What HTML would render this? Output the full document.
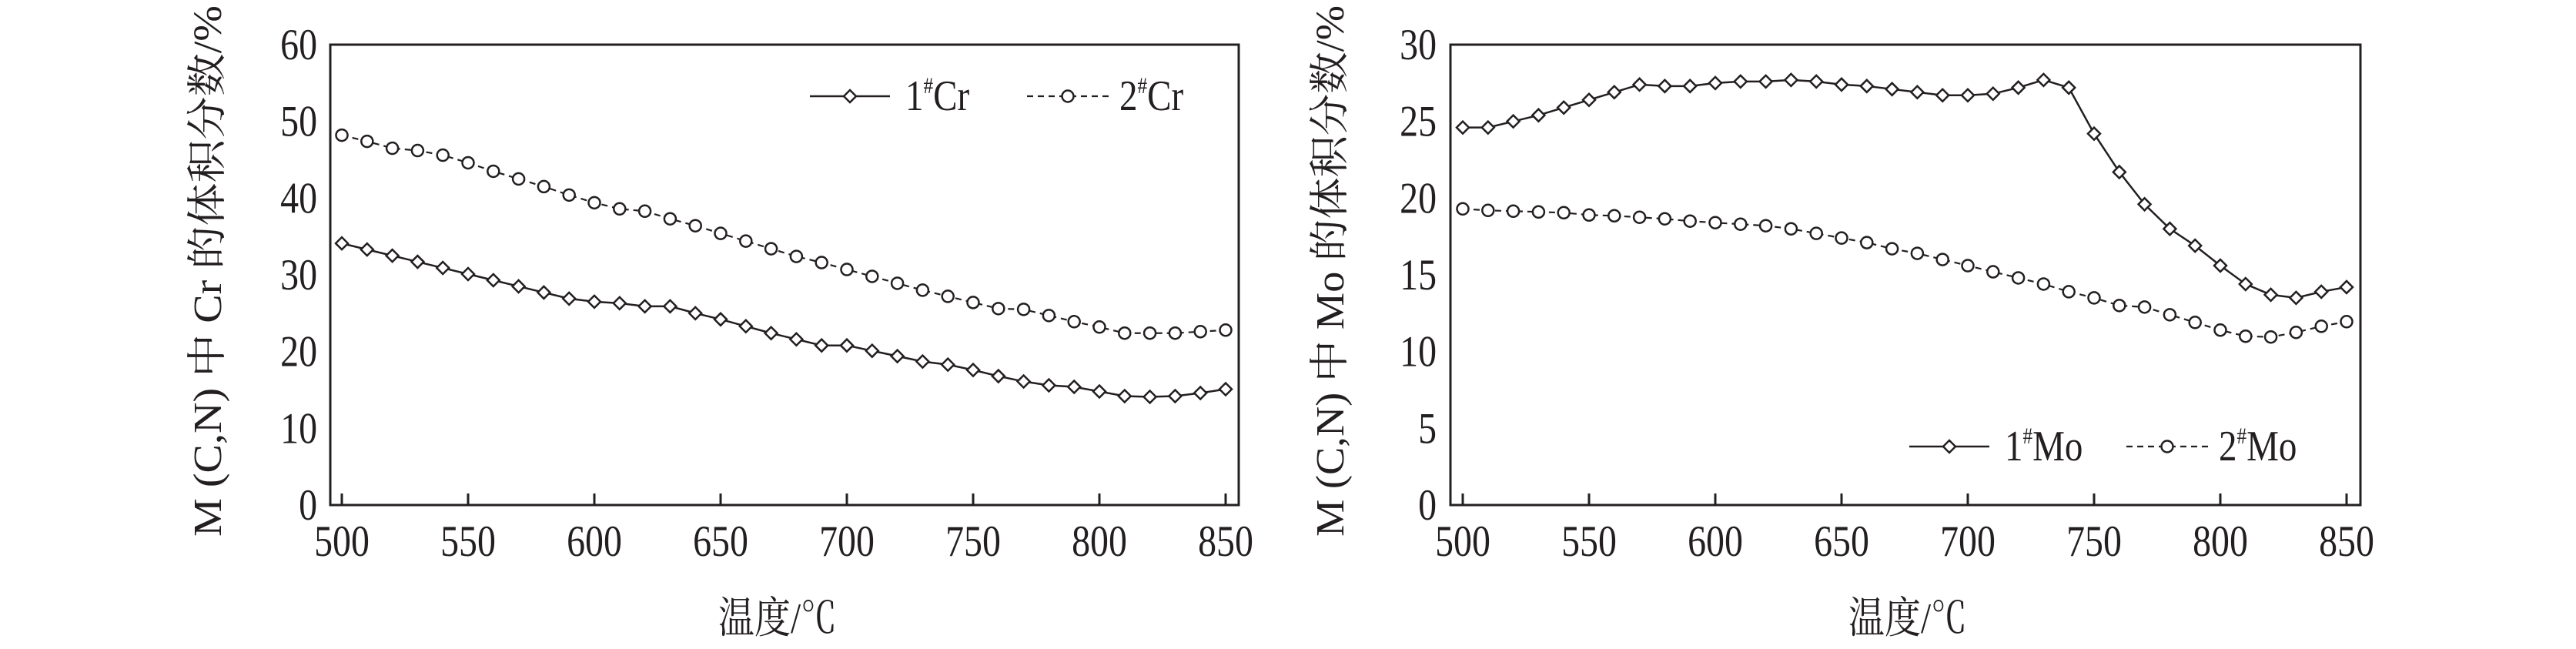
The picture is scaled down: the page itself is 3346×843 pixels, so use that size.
<!DOCTYPE html>
<html><head><meta charset="utf-8"><style>
html,body{margin:0;padding:0;background:#fff;}
svg{display:block;}
</style></head><body>
<svg id="s" width="3346" height="843" xmlns="http://www.w3.org/2000/svg" font-family="'Liberation Serif','Noto Serif CJK SC',serif" fill="#231f20"></svg>
<script>
const s=document.getElementById('s');
let h='';
const C='#231f20';
function tx(x,y,size,anchor,content){return `<text transform="translate(${x},${y}) scale(0.84,1)" font-size="${size}" text-anchor="${anchor}">${content}</text>`;}
function panel(L,R,x500,ymax,ystep,d1,d2,legY,legX,names,yt,ytitleX,xtitleX){
  const T=58,B=656,pxu=(1592-444)/350;
  const X=v=>x500+(v-500)*pxu, Y=v=>B-(B-T)*v/ymax;
  h+=`<rect x="${L}" y="${T}" width="${R-L}" height="${B-T}" fill="none" stroke="${C}" stroke-width="3"/>`;
  for(let v=500;v<=850;v+=50){h+=`<line x1="${X(v)}" y1="${B}" x2="${X(v)}" y2="${B-15}" stroke="${C}" stroke-width="3"/>`;
    h+=tx(X(v),B+66,57,'middle',v);}
  for(let v=0;v<=ymax;v+=ystep){h+=tx(yt,Y(v)+19,57,'end',v);}
  const pts=(d)=>d.map((v,i)=>[X(500+10*i),Y(v)]);
  const p1=pts(d1),p2=pts(d2);
  h+=`<polyline points="${p1.map(p=>p.join(',')).join(' ')}" fill="none" stroke="${C}" stroke-width="2.5"/>`;
  h+=`<polyline points="${p2.map(p=>p.join(',')).join(' ')}" fill="none" stroke="${C}" stroke-width="2.2" stroke-dasharray="8,6"/>`;
  const dia=(x,y)=>`<polygon points="${x-8},${y} ${x},${y-8} ${x+8},${y} ${x},${y+8}" fill="#fff" stroke="${C}" stroke-width="2.5"/>`;
  const cir=(x,y)=>`<circle cx="${x}" cy="${y}" r="7.5" fill="#fff" stroke="${C}" stroke-width="2.5"/>`;
  p1.forEach(p=>h+=dia(p[0],p[1]));
  p2.forEach(p=>h+=cir(p[0],p[1]));
  const a=legX;
  h+=`<line x1="${a}" y1="${legY}" x2="${a+104}" y2="${legY}" stroke="${C}" stroke-width="2.5"/>`+dia(a+52,legY);
  h+=tx(a+124,legY+18,56,'start',`1<tspan font-size="30" dy="-22">#</tspan><tspan dy="22">${names}</tspan>`);
  const b=a+282;
  h+=`<line x1="${b}" y1="${legY}" x2="${b+106}" y2="${legY}" stroke="${C}" stroke-width="2.2" stroke-dasharray="8,6"/>`+cir(b+53,legY);
  h+=tx(b+120,legY+18,56,'start',`2<tspan font-size="30" dy="-22">#</tspan><tspan dy="22">${names}</tspan>`);
  h+=tx(xtitleX,822,56,'middle','温度/℃');
  h+=`<text transform="translate(${ytitleX},352) rotate(-90)" font-size="52" text-anchor="middle" textLength="690" lengthAdjust="spacingAndGlyphs">M (C,N) 中 ${names} 的体积分数/%</text>`;
}
const cr1=[34.1,33.3,32.5,31.7,30.9,30.1,29.3,28.5,27.7,26.9,26.5,26.3,25.9,25.9,25.0,24.2,23.3,22.4,21.6,20.8,20.8,20.1,19.4,18.7,18.3,17.6,16.8,16.1,15.6,15.4,14.8,14.2,14.1,14.2,14.6,15.1];
const cr2=[48.2,47.4,46.5,46.2,45.6,44.6,43.5,42.5,41.5,40.4,39.4,38.6,38.3,37.3,36.4,35.4,34.4,33.4,32.4,31.6,30.7,29.8,28.9,28.0,27.2,26.4,25.6,25.5,24.7,23.9,23.2,22.4,22.4,22.4,22.6,22.8];
const mo1=[24.6,24.6,25.0,25.4,25.9,26.4,26.9,27.4,27.3,27.3,27.5,27.6,27.6,27.7,27.6,27.4,27.3,27.1,26.9,26.7,26.7,26.8,27.2,27.7,27.2,24.2,21.7,19.6,18.0,16.9,15.6,14.4,13.7,13.5,13.9,14.2];
const mo2=[19.3,19.2,19.15,19.1,19.05,18.9,18.85,18.75,18.65,18.5,18.4,18.3,18.2,18.0,17.7,17.4,17.1,16.7,16.4,16.0,15.6,15.2,14.8,14.4,13.9,13.5,13.0,12.9,12.4,11.9,11.4,11.0,10.95,11.25,11.65,11.95];
panel(429,1609,444,60,10,cr1,cr2,125,1052,'Cr',412,287,1010);
panel(1884,3066,1900,30,5,mo1,mo2,580,2480,'Mo',1866,1745,2478);
s.innerHTML=h;
</script>
</body></html>
